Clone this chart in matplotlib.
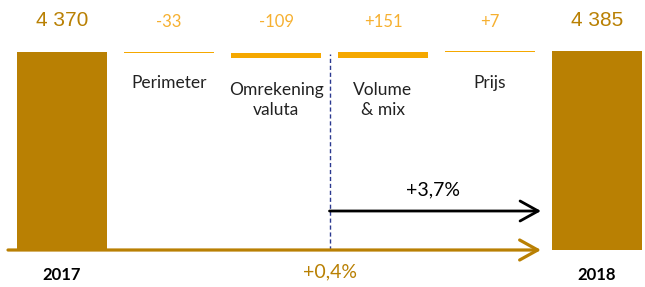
import matplotlib.pyplot as plt

plt.rcParams['font.family'] = ['Lato', 'DejaVu Sans']

# data
labels = ['2017', 'Perimeter', 'Omrekening\nvaluta', 'Volume\n& mix', 'Prijs', '2018']
start_value = 4370
end_value = 4385
changes = [-33, -109, 151, 7]
value_texts = ['4 370', '-33', '-109', '+151', '+7', '4 385']
growth_total = '+0,4%'
growth_organic = '+3,7%'

gold = '#B98003'
orange = '#F5A800'
orange_txt = '#F6B030'

# pixel scale of the original: 198 px for 4370
u = start_value / 198.0   # value units per pixel
step = 107.0              # pixels between categories

fig = plt.figure(figsize=(6.45, 2.87), dpi=100)
ax = fig.add_axes([0, 0, 1, 1])
ax.set_xlim(-62 / step, (645 - 62) / step)
ax.set_ylim(-37 * u, 250 * u)
ax.axis('off')

x = list(range(len(labels)))
w = 90 / step

# totals
ax.bar([x[0], x[-1]], [start_value, end_value], width=w, color=gold, zorder=2)

# changes (waterfall)
level = start_value
for i, c in enumerate(changes):
    bottom = min(level, level + c)
    ax.bar(x[i + 1], abs(c), bottom=bottom, width=w, color=orange, zorder=2)
    level += c

# value labels
for i, t in enumerate(value_texts):
    if i in (0, len(labels) - 1):
        ax.text(x[i], 229 * u, t, ha='center', va='center', fontsize=15, color=gold,
                family='Liberation Sans')
    else:
        ax.text(x[i], 228 * u, t, ha='center', va='center', fontsize=12, color=orange_txt)

# category labels
for i in range(1, len(labels) - 1):
    if '\n' in labels[i]:
        ax.text(x[i], 150 * u, labels[i], ha='center', va='center', fontsize=12.5,
                color='#222222', linespacing=1.25)
    else:
        ax.text(x[i], 167 * u, labels[i], ha='center', va='center', fontsize=12.5,
                color='#222222')

ax.text(x[0], -25 * u, labels[0], ha='center', va='center', fontsize=12,
        fontweight='bold', color='black')
ax.text(x[-1], -25 * u, labels[-1], ha='center', va='center', fontsize=12,
        fontweight='bold', color='black')

# baseline with arrow
x_end = (541 - 62) / step
head = dict(arrowstyle='->,head_length=0.65,head_width=0.36', mutation_scale=20,
            shrinkA=0, shrinkB=0)
ax.annotate('', xy=(x_end, 0), xytext=(-54 / step, 0),
            arrowprops=dict(lw=2.3, color=gold, **head), zorder=3)
ax.text(2.5, -22 * u, growth_total, ha='center', va='center', fontsize=14, color=gold)

# dashed divider
ax.plot([2.5, 2.5], [0, start_value - 40], color='#2B3990', lw=1, dashes=(3, 2), zorder=1)

# organic growth arrow
y_arr = 39 * u
ax.annotate('', xy=(x_end, y_arr), xytext=(2.5, y_arr),
            arrowprops=dict(lw=2, color='black', **head))
ax.text((2.5 + x_end) / 2 - 0.02, 60 * u, growth_organic, ha='center', va='center',
        fontsize=14, color='black')

fig.savefig('out.png', dpi=100)
